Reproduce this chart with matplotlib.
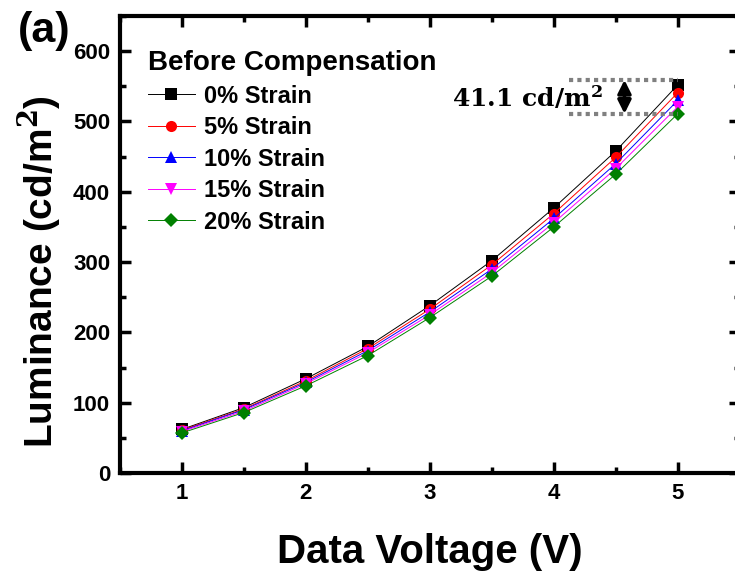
import matplotlib
matplotlib.use("Agg")
import matplotlib.pyplot as plt
from matplotlib.ticker import MultipleLocator

plt.rcParams['font.family'] = ['Liberation Sans', 'DejaVu Sans']
plt.rcParams['font.weight'] = 'bold'
plt.rcParams['mathtext.fontset'] = 'dejavuserif'

# data
voltage = [1.0, 1.5, 2.0, 2.5, 3.0, 3.5, 4.0, 4.5, 5.0]
strain_labels = ["0% Strain", "5% Strain", "10% Strain", "15% Strain", "20% Strain"]
lum_0 = [62, 93, 134, 180, 238, 302, 377, 458, 552]
lum_5 = [61, 91, 131, 177, 233, 296, 369, 449, 541]
lum_10 = [60, 90, 129, 174, 229, 290, 362, 440, 530]
lum_15 = [59, 88, 127, 171, 225, 285, 356, 433, 521]
lum_20 = [57, 86, 124, 167, 221, 280, 350, 425, 511]

series = [lum_0, lum_5, lum_10, lum_15, lum_20]
colors = ["black", "red", "blue", "magenta", "green"]
markers = ["s", "o", "^", "v", "D"]

fig = plt.figure(figsize=(7.35, 5.73), dpi=100)
ax = fig.add_axes([0.163, 0.1745, 0.8435, 0.7976])

for lum, lab, c, m in zip(series, strain_labels, colors, markers):
    ax.plot(voltage, lum, color=c, lw=0.7, marker=m, markersize=8 if m != "D" else 7.5,
            markeredgewidth=0, label=lab)

ax.set_xlim(0.5, 5.5)
ax.set_ylim(0, 650)
ax.xaxis.set_major_locator(MultipleLocator(1))
ax.xaxis.set_minor_locator(MultipleLocator(0.5))
ax.yaxis.set_major_locator(MultipleLocator(100))
ax.yaxis.set_minor_locator(MultipleLocator(50))
ax.tick_params(which="both", direction="in", top=True, right=True, width=2.5)
ax.tick_params(which="major", length=8, labelsize=16, pad=7)
ax.tick_params(which="minor", length=4)
for sp in ax.spines.values():
    sp.set_linewidth(3)

ax.set_xlabel("Data Voltage (V)", fontsize=29, fontweight="bold", labelpad=21)
ax.set_ylabel("Luminance (cd/m$^\\mathsf{\\mathbf{2}}$)", fontsize=28, fontweight="bold")
ax.yaxis.set_label_coords(-0.0935, 0.44)

leg = ax.legend(loc="upper left", title="Before Compensation", frameon=False,
                fontsize=17, title_fontproperties={"weight": "bold", "size": 20},
                handlelength=2.0, handletextpad=0.4, labelspacing=0.36,
                borderaxespad=0.0, borderpad=0.0, bbox_to_anchor=(0.045, 0.925))
leg._legend_box.align = "left"

# difference marker at 5 V
ax.hlines([559, lum_20[-1]], 4.12, 5.0, colors="gray", linestyles=(0, (1, 1)), lw=3)
ax.annotate("", xy=(4.57, 559), xytext=(4.57, lum_20[-1]),
            arrowprops=dict(arrowstyle="<|-|>", color="black", lw=2.5,
                            mutation_scale=20, shrinkA=0, shrinkB=0))
ax.text(3.79, 533, r"$\mathbf{41.1\ cd/m^2}$", fontsize=18, ha="center", va="center")

fig.text(0.024, 0.98, "(a)", fontsize=31, fontweight="bold", ha="left", va="top")

fig.savefig("out.png", dpi=100)
